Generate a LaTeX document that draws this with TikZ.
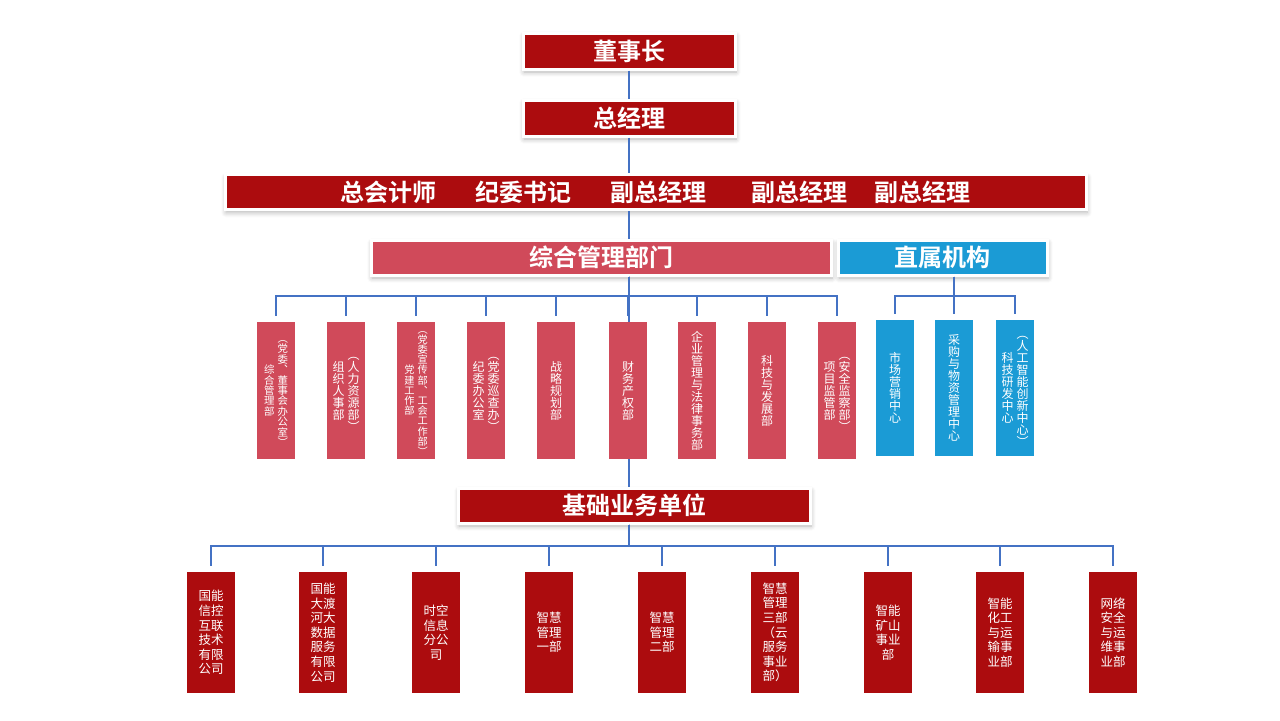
\documentclass[tikz,border=0pt]{standalone}
\usepackage{fontspec}
\setmainfont{Noto Sans CJK SC}[BoldFont={Noto Sans CJK SC Bold}]
\usetikzlibrary{positioning,shadows.blur}

\definecolor{darkred}{RGB}{172,12,14}
\definecolor{rosered}{RGB}{208,74,90}
\definecolor{skyblue}{RGB}{27,155,213}
\definecolor{linkblue}{RGB}{68,114,196}

% one column of upright characters
\def\vcharsloop#1{\ifx\relax#1\else
  \hbox to 1em{\hss\vrule width 0pt height .88em depth .12em\relax #1\hss}%
  \expandafter\vcharsloop\fi}
\newcommand\vchars[1]{\vcenter{\offinterlineskip\vcharsloop#1\relax}}
\newcommand\twocol[2]{$\vchars{#1}\kern1.5pt\vchars{#2}$}
\newcommand\onecol[1]{$\vchars{#1}$}

\begin{document}
\begin{tikzpicture}[x=0.5pt, y=-0.5pt,
  nodes={inner sep=0pt, text=white},
  halo/.style={draw=white, line width=1.5pt,
    blur shadow={shadow xshift=0.5pt, shadow yshift=-1.5pt,
      shadow blur radius=2.5pt, shadow blur steps=6, shadow opacity=30}},
  head/.style={halo, fill=darkred, minimum height=18pt,
    font=\bfseries\fontsize{12}{14}\selectfont},
  band/.style={halo, minimum height=17.5pt,
    font=\bfseries\fontsize{12}{14}\selectfont},
  dept/.style={fill=rosered, minimum width=19pt, minimum height=68.5pt},
  unit/.style={fill=skyblue, minimum width=19pt, minimum height=68pt,
    font=\fontsize{6}{6}\selectfont},
  branch/.style={fill=darkred, minimum width=24pt, minimum height=60.5pt,
    align=center, font=\fontsize{6.25}{7.3}\selectfont},
  link/.style={draw=linkblue, line width=0.9pt}
  ]
  \useasboundingbox (0,0) rectangle (1280,720);

  % leadership
  \node (chair) [head, minimum width=106pt] at (629,51) {董事长};
  \node (gm) [head, minimum width=106pt, below=14pt of chair] {总经理};
  \node (vps) [head, minimum height=17.5pt, minimum width=430.5pt] at (655.5,192)
    {总会计师\hspace{19.5pt}纪委书记\hspace{20pt}副总经理\hspace{22pt}副总经理\hspace{14pt}副总经理};

  \node (mgmt) [band, fill=rosered, minimum width=230pt] at (601,257.5) {综合管理部门};
  \node (direct) [band, fill=skyblue, minimum width=104.5pt, right=2pt of mgmt] {直属机构};
  \node (basic) [band, fill=darkred, minimum width=176pt] at (634,505.5) {基础业务单位};

  \coordinate (mbus) at (0,296);
  \coordinate (bbus) at (0,546);
  \coordinate (dx) at (954,0);

  \draw [link] (chair) -- (gm);
  \draw [link] (gm.south) -- (gm |- vps.north);
  \draw [link] (gm |- vps.south) -- (gm |- mgmt.north);
  \draw [link] (gm |- mgmt.south) -- (gm |- basic.north);

  % management departments
  \foreach \i/\x/\fs/\txt in {
      1/276/5.2/{\twocol{综合管理部}{︵党委︑董事会办公室︶}},
      2/346/6/{\twocol{组织人事部}{︵人力资源部︶}},
      3/416/5.1/{\twocol{党建工作部}{︵党委宣传部︑工会工作部︶}},
      4/486/6/{\twocol{纪委办公室}{︵党委巡查办︶}},
      5/556/6/{\onecol{战略规划部}},
      6/628/6/{\onecol{财务产权部}},
      7/697/6/{\onecol{企业管理与法律事务部}},
      8/767/6/{\onecol{科技与发展部}},
      9/837/6/{\twocol{项目监管部}{︵安全监察部︶}}}{
    \node (d\i) [dept, font=\fontsize{\fs}{\fs}\selectfont] at (\x,390.5) {\txt};
    \draw [link, shorten >=3pt] (gm |- mgmt.south) -- (gm |- mbus) -| (d\i);
  }

  % directly affiliated
  \foreach \i/\x/\txt in {
      1/895/{\onecol{市场营销中心}},
      2/954/{\onecol{采购与物资管理中心}},
      3/1015/{\twocol{科技研发中心}{︵人工智能创新中心︶}}}{
    \node (c\i) [unit] at (\x,388) {\txt};
    \draw [link, shorten >=3pt] (dx |- direct.south) -- (dx |- mbus) -| (c\i);
  }

  % business units
  \foreach \i/\x/\txt in {
      1/211/{国能\\信控\\互联\\技术\\有限\\公司},
      2/323/{国能\\大渡\\河大\\数据\\服务\\有限\\公司},
      3/436/{时空\\信息\\分公\\司},
      4/549/{智慧\\管理\\一部},
      5/662/{智慧\\管理\\二部},
      6/775/{智慧\\管理\\三部\\（云\\服务\\事业\\部）},
      7/888/{智能\\矿山\\事业\\部},
      8/1000/{智能\\化工\\与运\\输事\\业部},
      9/1113/{网络\\安全\\与运\\维事\\业部}}{
    \node (b\i) [branch] at (\x,632.5) {\txt};
    \draw [link, shorten >=3pt] (gm |- basic.south) -- (gm |- bbus) -| (b\i);
  }
\end{tikzpicture}
\end{document}
